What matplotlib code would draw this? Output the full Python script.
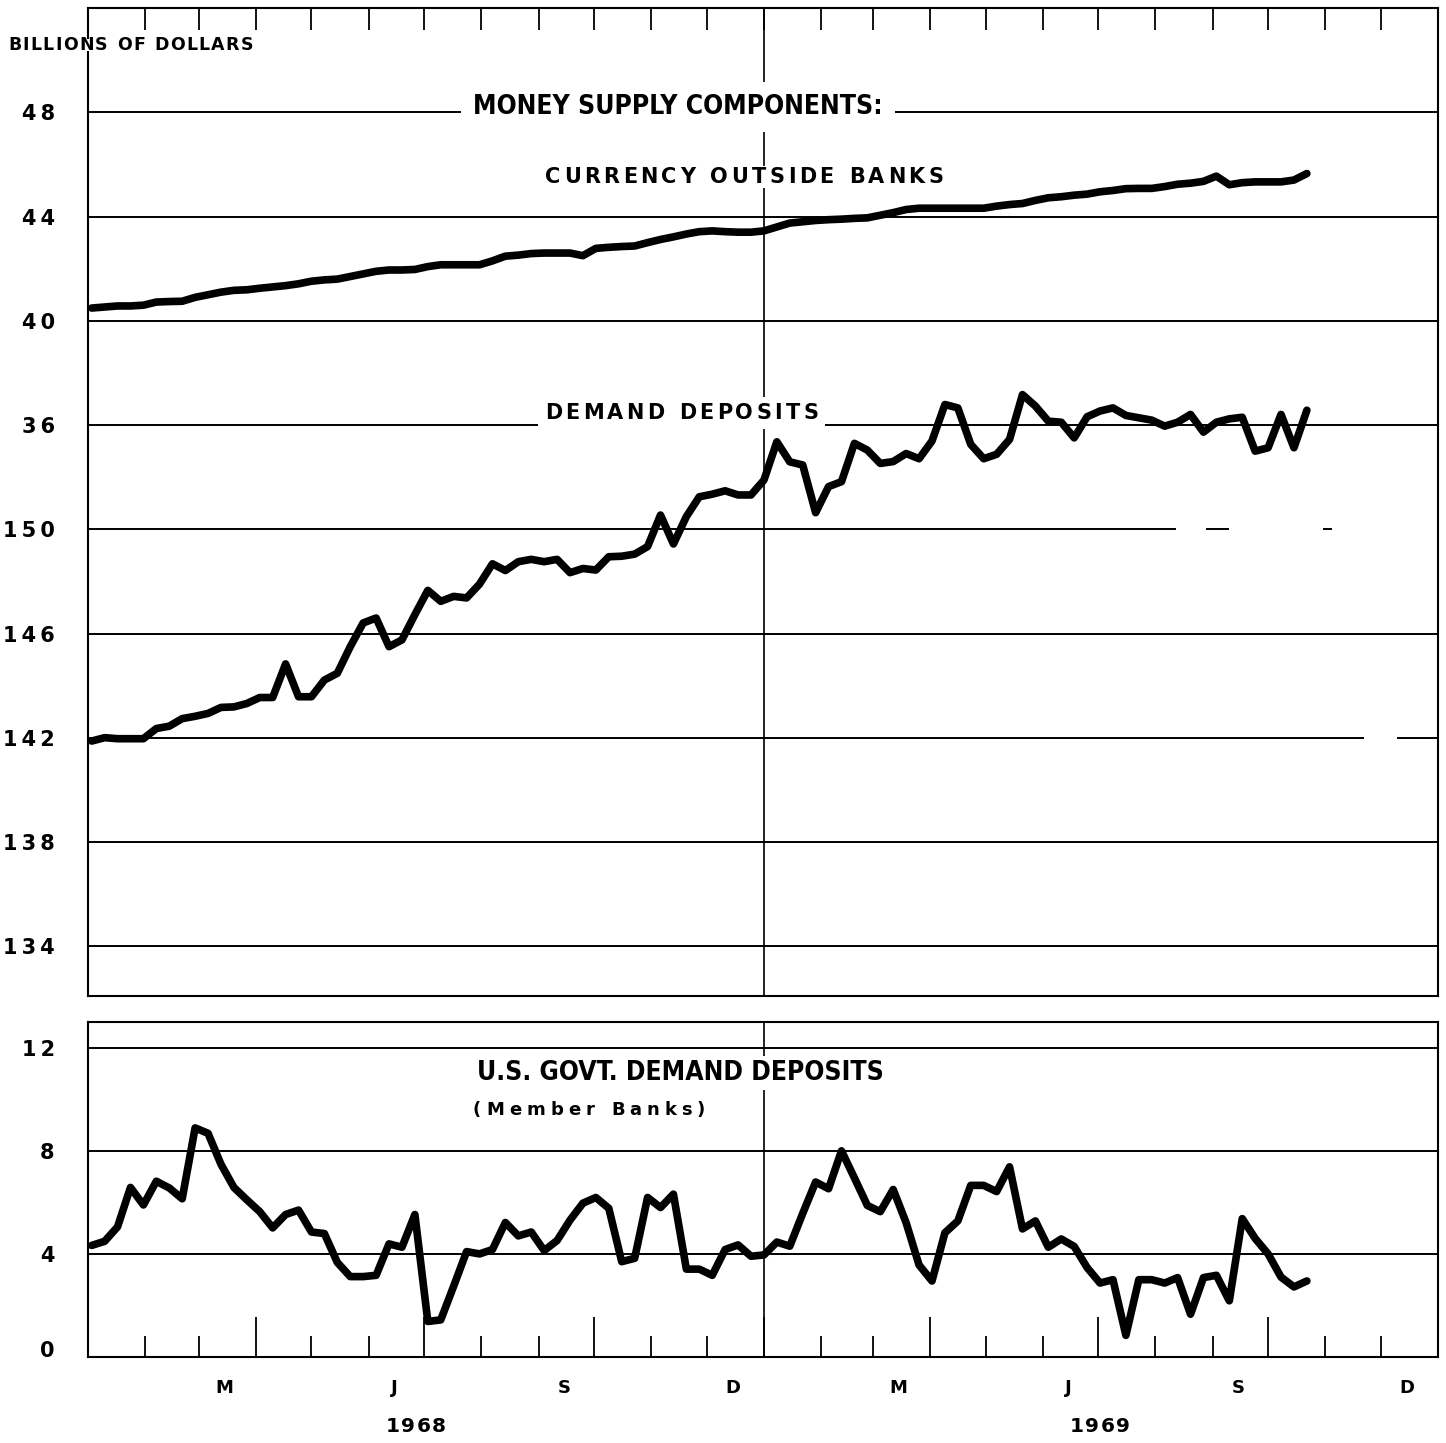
import datetime as dt
import matplotlib
matplotlib.use("Agg")
import matplotlib.pyplot as plt
import matplotlib.dates as mdates
import matplotlib.transforms as mtransforms
from matplotlib.patches import Rectangle

# ---------------- data (weekly, billions of dollars) ----------------
first_week = dt.date(1968, 1, 3)
n_weeks = 95
weeks = [first_week + dt.timedelta(days=7 * i) for i in range(n_weeks)]

currency = [40.49, 40.53, 40.57, 40.57, 40.60, 40.72, 40.74, 40.75, 40.90, 41.00,
            41.10, 41.17, 41.19, 41.25, 41.30, 41.35, 41.42, 41.52, 41.57, 41.60,
            41.70, 41.80, 41.90, 41.95, 41.95, 41.97, 42.08, 42.15, 42.15, 42.15,
            42.15, 42.30, 42.48, 42.52, 42.58, 42.60, 42.60, 42.60, 42.50, 42.78,
            42.82, 42.85, 42.87, 43.00, 43.12, 43.22, 43.33, 43.42, 43.45, 43.42,
            43.40, 43.40, 43.45, 43.60, 43.75, 43.80, 43.85, 43.88, 43.90, 43.93,
            43.95, 44.05, 44.15, 44.27, 44.32, 44.32, 44.32, 44.32, 44.32, 44.32,
            44.40, 44.46, 44.50, 44.62, 44.72, 44.76, 44.82, 44.86, 44.95, 45.00,
            45.07, 45.08, 45.08, 45.15, 45.24, 45.28, 45.35, 45.55, 45.22, 45.30,
            45.33, 45.33, 45.33, 45.40, 45.65]

demand = [141.88, 142.01, 141.97, 141.97, 141.97, 142.36, 142.45, 142.74, 142.83, 142.94,
          143.17, 143.19, 143.32, 143.55, 143.55, 144.84, 143.58, 143.58, 144.22, 144.48,
          145.50, 146.41, 146.60, 145.50, 145.76, 146.73, 147.66, 147.24, 147.43, 147.37,
          147.90, 148.68, 148.42, 148.76, 148.85, 148.76, 148.85, 148.34, 148.50, 148.44,
          148.95, 148.97, 149.05, 149.34, 150.55, 149.44, 150.49, 151.25, 151.35, 151.48,
          151.32, 151.32, 151.89, 153.36, 152.59, 152.47, 150.64, 151.64, 151.83, 153.30,
          153.04, 152.53, 152.60, 152.91, 152.71, 153.39, 154.79, 154.66, 153.26, 152.71,
          152.88, 153.45, 155.17, 154.73, 154.15, 154.11, 153.51, 154.32, 154.54, 154.66,
          154.37, 154.28, 154.19, 153.96, 154.11, 154.41, 153.73, 154.11, 154.24, 154.30,
          153.00, 153.13, 154.41, 153.13, 154.57]

govt = [4.33, 4.49, 5.05, 6.58, 5.90, 6.82, 6.56, 6.14, 8.89, 8.68,
        7.48, 6.58, 6.10, 5.64, 5.01, 5.53, 5.70, 4.85, 4.79, 3.67,
        3.12, 3.12, 3.17, 4.39, 4.26, 5.53, 1.38, 1.44, 2.75, 4.09,
        4.00, 4.17, 5.22, 4.70, 4.85, 4.13, 4.52, 5.31, 5.97, 6.19,
        5.77, 3.70, 3.83, 6.19, 5.80, 6.32, 3.41, 3.41, 3.17, 4.17,
        4.35, 3.91, 3.96, 4.46, 4.30, 5.57, 6.79, 6.53, 8.00, 6.95,
        5.88, 5.64, 6.50, 5.21, 3.57, 2.95, 4.82, 5.28, 6.66, 6.66,
        6.42, 7.38, 4.97, 5.28, 4.26, 4.58, 4.29, 3.47, 2.87, 3.00,
        0.84, 3.00, 3.00, 2.87, 3.08, 1.66, 3.08, 3.17, 2.18, 5.37,
        4.60, 4.00, 3.10, 2.72, 2.95]

# broken scale of the upper panel: currency label "36" sits where demand = 154
currency_offset = 118
top_ticks = [134, 138, 142, 146, 150, 154, 158, 162, 166]
top_labels = ["134", "138", "142", "146", "150", "36", "40", "44", "48"]
bottom_ticks = [0, 4, 8, 12]
bottom_labels = ["0", "4", "8", "12"]
month_labels = ["M", "J", "S", "D"]
label_months = [3, 6, 9, 12]
years = [1968, 1969]

# ---------------- figure ----------------
W, H = 1446, 1443
fig = plt.figure(figsize=(W / 100, H / 100), dpi=100)
fig.patch.set_facecolor("white")

FONT = "DejaVu Sans"
THIN = "\u2009"


def fx(px):
    return px / W


def fy(py):
    return 1 - py / H


x0 = mdates.date2num(dt.date(1968, 1, 1))
x1 = mdates.date2num(dt.date(1970, 1, 1))
xs = mdates.date2num(weeks)

ax = fig.add_axes([fx(88), fy(996), fx(1438) - fx(88), fy(8) - fy(996)])
axb = fig.add_axes([fx(88), fy(1357), fx(1438) - fx(88), fy(1022) - fy(1357)])

for a in (ax, axb):
    a.set_xlim(x0, x1)
    for s in a.spines.values():
        s.set_linewidth(1.5)
        s.set_color("black")
    a.tick_params(axis="y", length=0, pad=24, labelsize=15)

ax.set_ylim(132.1, 170.0)
axb.set_ylim(0, 13.0)

ax.set_yticks(top_ticks)
ax.set_yticklabels([THIN.join(t) for t in top_labels], fontweight="bold",
                   fontsize=15, family=FONT)
axb.set_yticks(bottom_ticks)
axb.set_yticklabels([THIN.join(t) for t in bottom_labels], fontweight="bold",
                    fontsize=15, family=FONT)
# the "0" label sits a little above the baseline in the original
axb.get_yticklabels()[0].set_transform(
    axb.get_yticklabels()[0].get_transform()
    + mtransforms.ScaledTranslation(0, 8 / 100, fig.dpi_scale_trans))

# gridlines (scan shows a few broken ones at right)
for v in top_ticks:
    if v == 150:
        ax.axhline(v, xmin=0, xmax=(1175 - 88) / 1350, color="black", lw=1.4, zorder=1)
        ax.axhline(v, xmin=(1207 - 88) / 1350, xmax=(1228 - 88) / 1350, color="black", lw=1.4, zorder=1)
        ax.axhline(v, xmin=(1324 - 88) / 1350, xmax=(1331 - 88) / 1350, color="black", lw=1.4, zorder=1)
    elif v == 142:
        ax.axhline(v, xmin=0, xmax=(1363 - 88) / 1350, color="black", lw=1.4, zorder=1)
        ax.axhline(v, xmin=(1398 - 88) / 1350, xmax=1, color="black", lw=1.4, zorder=1)
    else:
        ax.axhline(v, color="black", lw=1.4, zorder=1)
for v in bottom_ticks:
    axb.axhline(v, color="black", lw=1.4, zorder=1)

# year divider
for a in (ax, axb):
    a.axvline(mdates.date2num(dt.date(1969, 1, 1)), color="black", lw=1.2, zorder=1)

# x ticks
ax.xaxis.set_major_locator(mdates.MonthLocator())
ax.tick_params(axis="x", which="major", direction="in", top=True, bottom=False,
               labeltop=False, labelbottom=False, length=16, width=1.3)
axb.xaxis.set_major_locator(mdates.MonthLocator(bymonth=[1, 4, 7, 10]))
axb.xaxis.set_minor_locator(mdates.MonthLocator(bymonth=[2, 3, 5, 6, 8, 9, 11, 12]))
axb.tick_params(axis="x", which="major", direction="in", length=29, width=1.3,
                labelbottom=False)
axb.tick_params(axis="x", which="minor", direction="in", length=15, width=1.3,
                labelbottom=False)

# data
ax.plot(xs, demand, color="black", lw=5.5, solid_joinstyle="round",
        solid_capstyle="round", zorder=3)
ax2 = ax.twinx()
ax2.set_ylim(132.1 - currency_offset, 170.0 - currency_offset)
ax2.set_yticks([])
for s in ax2.spines.values():
    s.set_visible(False)
ax2.plot(xs, currency, color="black", lw=5.5, solid_joinstyle="round",
         solid_capstyle="round", zorder=3)
axb.plot(xs, govt, color="black", lw=5.5, solid_joinstyle="round",
         solid_capstyle="round", zorder=3)

# month labels
trans = mtransforms.blended_transform_factory(axb.transData, fig.transFigure)
for y in years:
    for m, lab in zip(label_months, month_labels):
        axb.text(mdates.date2num(dt.date(y, m, 15)), fy(1388), lab, transform=trans,
                 ha="center", va="center", fontsize=13, fontweight="bold", family=FONT)

# ---------------- letter-spaced text helper ----------------
fig.canvas.draw()
renderer = fig.canvas.get_renderer()


def tracked(s, x_left, x_right, y_center, size, weight="bold", cover=None):
    """Draw s letter-spaced so that it spans x_left..x_right (pixels)."""
    widths = []
    for ch in s:
        probe = fig.text(0, 0, ch if ch != " " else "n", fontsize=size,
                         fontweight=weight, family=FONT)
        w = probe.get_window_extent(renderer).width
        probe.remove()
        widths.append(w * (0.55 if ch == " " else 1.0))
    n_gaps = len(s) - 1
    extra = ((x_right - x_left) - sum(widths)) / max(n_gaps, 1)
    if cover is not None:
        padx, pady = cover
        fig.patches.append(Rectangle((fx(x_left - padx), fy(y_center + size * 0.75 + pady)),
                                     (x_right - x_left + 2 * padx) / W,
                                     (size * 1.5 + 2 * pady) / H,
                                     transform=fig.transFigure, facecolor="white",
                                     edgecolor="none", zorder=9))
    x = x_left
    for ch, w in zip(s, widths):
        if ch != " ":
            fig.text(fx(x), fy(y_center), ch, ha="left", va="center", fontsize=size,
                     fontweight=weight, family=FONT, zorder=10)
        x += w + extra


tracked("BILLIONS OF DOLLARS", 8, 253, 45, 12.5, weight="semibold", cover=(2, -3))
tracked("CURRENCY OUTSIDE BANKS", 545, 943, 177, 15, cover=(3, 0))
tracked("DEMAND DEPOSITS", 545, 818, 413, 15, cover=(7, 5))
tracked("(Member Banks)", 473, 705, 1110, 13)
tracked("1968", 386, 446, 1427, 14.5)
tracked("1969", 1070, 1130, 1427, 14.5)

fig.text(fx(678), fy(107), "MONEY SUPPLY COMPONENTS:", ha="center", va="center",
         fontsize=19, family=FONT, fontweight="heavy", fontstretch="condensed",
         bbox=dict(facecolor="white", edgecolor="none", pad=9), zorder=10)
fig.text(fx(680), fy(1073), "U.S. GOVT. DEMAND DEPOSITS", ha="center", va="center",
         fontsize=19, family=FONT, fontweight="heavy", fontstretch="condensed",
         bbox=dict(facecolor="white", edgecolor="none", pad=3), zorder=10)

fig.savefig("out.png", dpi=100, facecolor="white")
